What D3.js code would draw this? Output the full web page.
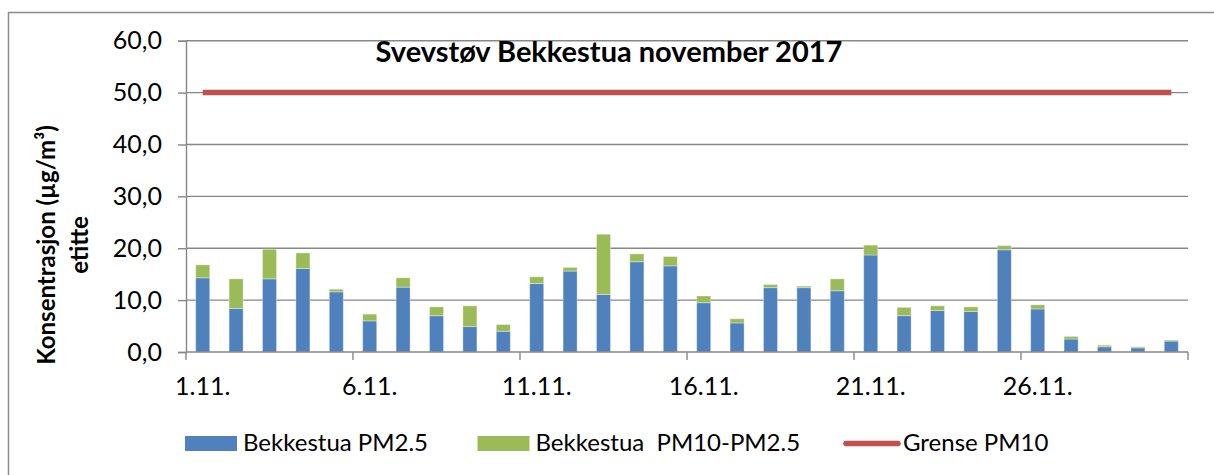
<!DOCTYPE html>
<html>
<head>
<meta charset="utf-8">
<script src="https://cdn.jsdelivr.net/npm/d3@7"></script>
<style>
  body { margin: 0; background: #fff; }
  text { font-family: Lato, "Open Sans", sans-serif; fill: #000; }
</style>
</head>
<body>
<div id="chart"></div>
<script>
// days of november 2017
let days = ["1.11.", "2.11.", "3.11.", "4.11.", "5.11.", "6.11.", "7.11.", "8.11.", "9.11.", "10.11.",
  "11.11.", "12.11.", "13.11.", "14.11.", "15.11.", "16.11.", "17.11.", "18.11.", "19.11.", "20.11.",
  "21.11.", "22.11.", "23.11.", "24.11.", "25.11.", "26.11.", "27.11.", "28.11.", "29.11.", "30.11."]
let pm25 = [14.3, 8.4, 14.1, 16.1, 11.6, 6.0, 12.5, 7.0, 4.9, 4.0,
  13.2, 15.6, 11.1, 17.4, 16.6, 9.5, 5.6, 12.4, 12.4, 11.8,
  18.7, 7.0, 8.0, 7.8, 19.7, 8.3, 2.5, 1.0, 0.8, 2.1]
let coarse = [2.5, 5.7, 5.7, 3.0, 0.5, 1.3, 1.8, 1.7, 4.0, 1.3,
  1.3, 0.7, 11.6, 1.5, 1.8, 1.3, 0.8, 0.6, 0.3, 2.3,
  1.9, 1.6, 0.9, 0.9, 0.8, 0.8, 0.5, 0.3, 0.2, 0.2]
let limit = [50, 50, 50, 50, 50, 50, 50, 50, 50, 50,
  50, 50, 50, 50, 50, 50, 50, 50, 50, 50,
  50, 50, 50, 50, 50, 50, 50, 50, 50, 50]
let yTicks = [0, 10, 20, 30, 40, 50, 60]
let seriesNames = ["Bekkestua PM2.5", "Bekkestua  PM10-PM2.5", "Grense PM10"]
let colors = ["#4F81BD", "#9BBB59", "#C0504D"]

let width = 1214
let height = 475

let svg = d3.select("#chart")
  .append("svg")
  .attr("width", width)
  .attr("height", height)

// outer chart frame (only top and left visible)
svg.append("path")
  .attr("d", "M8.5,475 V12.5 H1214")
  .attr("fill", "none")
  .attr("stroke", "#8c8c8c")
  .attr("stroke-width", 1.5)

let x = d3.scaleBand()
  .domain(days)
  .range([186, 1188])
  .paddingInner(0.58)
  .paddingOuter(0.29)

let y = d3.scaleLinear()
  .domain([0, 60])
  .range([352, 40.7])

// gridlines
svg.append("g")
  .selectAll("line")
  .data(yTicks.slice(1))
  .enter()
  .append("line")
  .attr("x1", 186)
  .attr("x2", 1188)
  .attr("y1", d => y(d))
  .attr("y2", d => y(d))
  .attr("stroke", "#878787")
  .attr("stroke-width", 1.4)

// y axis
let yAxis = svg.append("g")
  .attr("transform", "translate(186,0)")
  .call(d3.axisLeft(y).tickValues(yTicks).tickSize(8).tickPadding(16)
    .tickFormat(d => d3.format(".1f")(d).replace(".", ",")))
yAxis.select(".domain").attr("stroke", "#878787").attr("stroke-width", 1.4)
yAxis.selectAll(".tick line").attr("stroke", "#878787").attr("stroke-width", 1.4)
yAxis.selectAll("text").style("font-size", "25px").attr("fill", "#000")

// stacked bars
let table = days.map((d, i) => ({ day: d, pm25: pm25[i], coarse: coarse[i] }))
let stack = d3.stack().keys(["pm25", "coarse"])
let layers = stack(table)

svg.append("g")
  .selectAll("g")
  .data(layers)
  .enter()
  .append("g")
  .attr("fill", (d, i) => colors[i])
  .selectAll("rect")
  .data(d => d)
  .enter()
  .append("rect")
  .attr("x", d => x(d.data.day))
  .attr("width", x.bandwidth())
  .attr("y", d => y(d[1]))
  .attr("height", d => y(d[0]) - y(d[1]))
  .attr("stroke", "#ffffff")
  .attr("stroke-opacity", 0.35)
  .attr("stroke-width", 1)

// x axis line and ticks every 5 days at category boundaries
let boundary = i => x.range()[0] + i * x.step()
svg.append("line")
  .attr("x1", 186).attr("x2", 1188)
  .attr("y1", y(0)).attr("y2", y(0))
  .attr("stroke", "#878787").attr("stroke-width", 1.4)
svg.append("g")
  .selectAll("line")
  .data([0, 5, 10, 15, 20, 25, 30])
  .enter()
  .append("line")
  .attr("x1", d => boundary(d)).attr("x2", d => boundary(d))
  .attr("y1", y(0)).attr("y2", y(0) + 8)
  .attr("stroke", "#878787").attr("stroke-width", 1.4)
svg.append("g")
  .selectAll("text")
  .data(days.filter((d, i) => i % 5 == 0))
  .enter()
  .append("text")
  .attr("x", d => x(d) + x.bandwidth() / 2)
  .attr("y", 395)
  .attr("text-anchor", "middle")
  .style("font-size", "25px")
  .text(d => d)

// limit line
let line = d3.line()
  .x((d, i) => x(days[i]) + x.bandwidth() / 2)
  .y(d => y(d))
svg.append("path")
  .datum(limit)
  .attr("d", line)
  .attr("fill", "none")
  .attr("stroke", colors[2])
  .attr("stroke-width", 5.5)

// title
svg.append("text")
  .attr("x", 609)
  .attr("y", 62)
  .attr("text-anchor", "middle")
  .style("font-size", "29px")
  .style("font-weight", "bold")
  .text("Svevstøv Bekkestua november 2017")

// y axis title
let yTitle = svg.append("text")
  .attr("transform", "translate(0,245) rotate(-90)")
  .attr("text-anchor", "middle")
  .style("font-size", "24px")
  .style("font-weight", "bold")
yTitle.append("tspan").attr("x", 0).attr("y", 55).text("Konsentrasjon (µg/m³)")
yTitle.append("tspan").attr("x", 0).attr("y", 88).text("etitte")

// legend
let legendX = [185, 477.5, 844]
let legend = svg.append("g")
  .selectAll("g")
  .data(seriesNames)
  .enter()
  .append("g")
  .attr("transform", (d, i) => "translate(" + legendX[i] + ",0)")
legend.filter((d, i) => i < 2)
  .append("rect")
  .attr("y", 436).attr("width", 52).attr("height", 15)
  .attr("fill", (d, i) => colors[i])
legend.filter((d, i) => i == 2)
  .append("line")
  .attr("x1", 2).attr("x2", 54)
  .attr("y1", 443.5).attr("y2", 443.5)
  .attr("stroke", colors[2]).attr("stroke-width", 5.5)
  .attr("stroke-linecap", "round")
legend.append("text")
  .attr("x", (d, i) => i < 2 ? 58 : 59)
  .attr("y", 451)
  .style("font-size", "24px")
  .style("white-space", "pre")
  .text(d => d)
</script>
</body>
</html>
